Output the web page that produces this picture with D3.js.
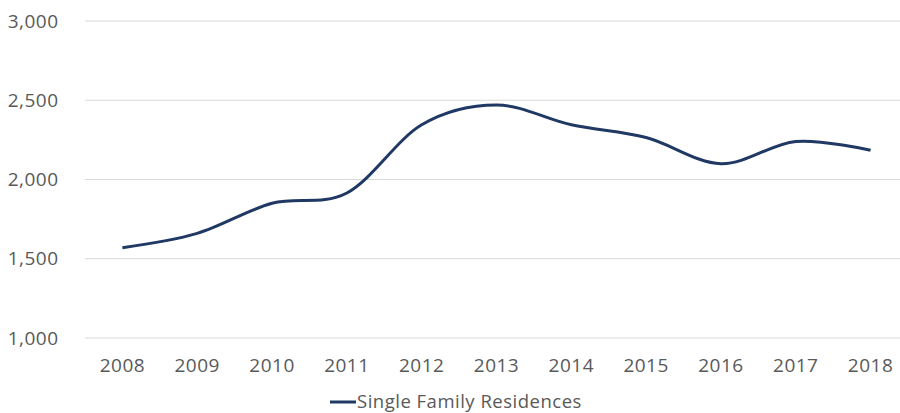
<!DOCTYPE html>
<html><head><meta charset="utf-8">
<script src="https://cdn.jsdelivr.net/npm/d3@7"></script>
<style>
html,body{margin:0;padding:0;background:#fff;}
svg{display:block;}
text{font-family:"Open Sans",Lato,sans-serif;fill:#595959;letter-spacing:0.5px;}
</style></head>
<body>
<svg id="chart" width="900" height="413"></svg>
<script>
const years = ["2008","2009","2010","2011","2012","2013","2014","2015","2016","2017","2018"];
const singleFamily = [1570, 1660, 1850, 1915, 2345, 2470, 2345, 2265, 2100, 2240, 2185];
const yTicks = [1000, 1500, 2000, 2500, 3000];
const seriesName = "Single Family Residences";

const svg = d3.select("#chart");
const x = d3.scaleBand().domain(years).range([85, 908]);
const y = d3.scaleLinear().domain([1000, 3000]).range([338, 21]);

// gridlines
svg.append("g").selectAll("line").data(yTicks).join("line")
  .attr("x1", 85).attr("x2", 900)
  .attr("y1", d => y(d)).attr("y2", d => y(d))
  .attr("stroke", "#d9d9d9").attr("stroke-width", 1);

// y labels
svg.append("g").selectAll("text").data(yTicks).join("text")
  .attr("x", 58.5).attr("y", d => y(d) + 6.5)
  .attr("text-anchor", "end").attr("font-size", 19)
  .text(d => d3.format(",")(d));

// x labels
svg.append("g").selectAll("text").data(years).join("text")
  .attr("x", d => x(d) + x.bandwidth()/2).attr("y", 372)
  .attr("text-anchor", "middle").attr("font-size", 19)
  .text(d => d);

// line
const line = d3.line()
  .x((d, i) => x(years[i]) + x.bandwidth()/2)
  .y(d => y(d))
  .curve(d3.curveCardinal.tension(0));
svg.append("path").datum(singleFamily)
  .attr("d", line).attr("fill", "none")
  .attr("stroke", "#1f3864").attr("stroke-width", 3)
  .attr("stroke-linecap", "butt");

// legend
const lg = svg.append("g");
lg.append("line").attr("x1", 330).attr("x2", 356).attr("y1", 402).attr("y2", 402)
  .attr("stroke", "#1f3864").attr("stroke-width", 3);
lg.append("text").attr("x", 357).attr("y", 407.5).attr("font-size", 18.5).text(seriesName);
</script>
</body></html>
